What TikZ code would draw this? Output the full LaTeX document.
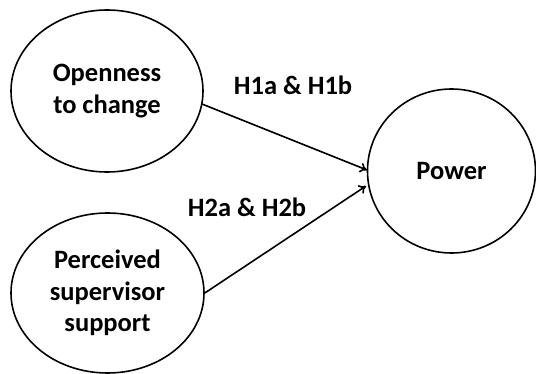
\documentclass[tikz,border=0pt]{standalone}
\usepackage{fontspec}
\setmainfont{Carlito}
\usetikzlibrary{shapes.geometric,arrows.meta}
\begin{document}
\begin{tikzpicture}[x=1pt,y=-1pt,
  construct/.style={draw,line width=1.6pt,ellipse,inner sep=0pt},
  lbl/.style={font=\fontsize{26.5}{31.5}\selectfont\bfseries,align=center},
  path/.style={line width=1.6pt,-{To[length=7pt,width=10pt]}}]
  \useasboundingbox (0,0) rectangle (536,374);
  \node[construct,minimum width=192pt,minimum height=162pt] (open) at (107,91) {};
  \node[lbl] at (open) {Openness\\to change};
  \node[construct,minimum width=193pt,minimum height=160pt] (supp) at (107.5,293) {};
  \node[lbl] at (supp) {Perceived\\supervisor\\support};
  \node[construct,minimum width=168pt,minimum height=164pt] (power) at (451.5,171) {};
  \node[lbl] at (power) {Power};
  \coordinate (s1) at (202,104);
  \coordinate (t1) at (367,170);
  \coordinate (t2) at (366,186);
  \draw[path] (s1) -- (t1);
  \draw[path] (supp.east) -- (t2);
  \node[lbl] (h1) at (293,85) {H1a \& H1b};
  \node[lbl] (h2) at (247,207) {H2a \& H2b};
\end{tikzpicture}
\end{document}
